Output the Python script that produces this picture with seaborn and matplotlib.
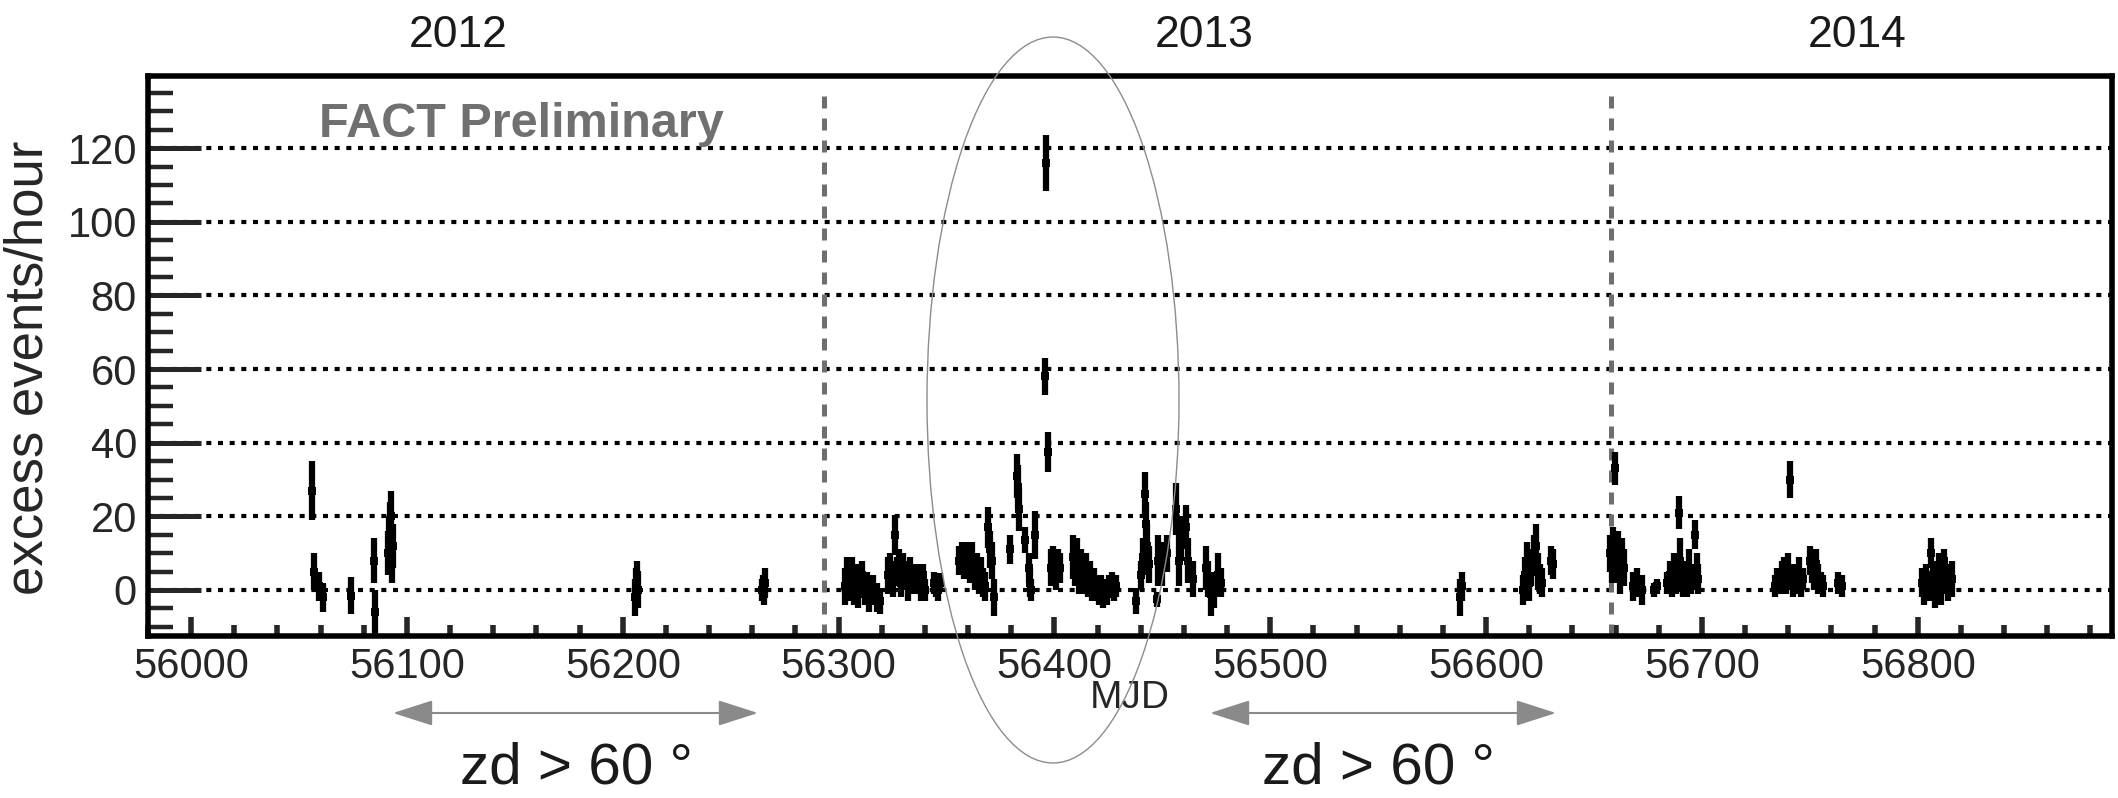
import numpy as np
import pandas as pd
import seaborn as sns
import matplotlib.pyplot as plt
from matplotlib.patches import Ellipse, FancyArrowPatch
from matplotlib.ticker import MultipleLocator, FormatStrFormatter

# nightly excess rates (MJD, excess events/hour, error)
mjd_2012 = [56056, 56057, 56059, 56061, 56074, 56084.5, 56085, 56091, 56091.5, 56092,
            56092.5, 56093, 56093.5, 56205.5, 56206, 56206.5, 56207, 56264.5, 56265,
            56265.5, 56266]
rate_2012 = [27, 5, 1, -2, -1.5, 8, -6, 10, 14, 17, 20, 8, 12, -2, 1, 4, 0, 0, 1, -1, 2]
err_2012 = [8, 5, 4, 4, 5, 6, 6, 6, 6, 7, 7, 6, 6, 5, 5, 4, 5, 3, 3, 3, 4]

mjd_2013 = [56303, 56304, 56305, 56306, 56307, 56308, 56309, 56310, 56311, 56312, 56313,
            56314, 56316, 56318, 56319,
            56323, 56324, 56325, 56326, 56327, 56328, 56329, 56330, 56331, 56332, 56333, 56334,
            56337, 56338, 56339, 56340, 56344, 56345, 56346, 56347,
            56356, 56357, 56358, 56359, 56360, 56361, 56362, 56363, 56364, 56365, 56366,
            56367, 56368, 56369, 56370, 56371, 56372,
            56379.5, 56382.5, 56383, 56383.5,
            56386.5, 56388, 56388.5, 56389, 56391,
            56395.5, 56396, 56397,
            56398.5, 56399.5, 56400.5, 56401.5, 56402.5,
            56408.5, 56409.5, 56410.5, 56411.5, 56412.5, 56413.5, 56414.5, 56415.5, 56416.5,
            56417.5, 56418.5, 56419.5, 56420.5, 56421.5, 56422.5, 56423.5, 56424.5, 56425.5,
            56426.5, 56427.5, 56428.5,
            56438, 56440, 56441, 56442, 56442.5, 56443, 56444, 56447.5, 56448, 56450, 56452,
            56456.5, 56457.5, 56458.5, 56461, 56462, 56464,
            56470, 56471, 56472.5, 56474, 56476, 56477,
            56588, 56589,
            56617, 56618, 56619, 56620, 56621, 56622, 56623, 56624, 56625, 56626, 56630, 56631]
rate_2013 = [1, 4, 2, 5, 0, 3, -1, 2, 4, 0, 1,
             -2, 0, -2, -3,
             4, 6, 3, 15, 5, 7, 2, 6, 4, 1, 5, 3,
             3, 1, 4, 0, 2, 1, 0, 2,
             8, 9, 7, 10, 8, 6, 9, 4, 6, 3, 5,
             2, 1, 17, 11, 8, -2,
             11, 31, 28, 22,
             13.5, 6, 2, 0, 15,
             58, 116, 37.5,
             6, 8, 5, 7, 6,
             9, 6, 10, 4, 7, 3, 6, 2, 5,
             1, 3, 0, -1, 1, -2, 0, -1, 1,
             2, 0, 1,
             -3, 4, 9, 26, 18, 12, 7, -2.5, 8, 7, 10,
             22, 8, 14, 17, 8, 3,
             6, 3, -1, 0, 4, 2,
             -2, 1,
             0, 4, 8, 2, 6, 10, 12, 5, 3, 2, 8, 7]
err_2013 = [5, 5, 5, 4, 4, 4, 4, 4, 4, 4, 4,
            4, 4, 4, 3.5,
            5, 4, 5, 5.5, 4, 4, 4, 4, 4, 4, 4, 4,
            4, 4, 3, 3, 3, 3, 3, 2.5,
            4, 4, 4, 3, 4, 4, 4, 4, 4, 4, 4,
            4, 4, 5.5, 5, 5, 5,
            4, 6, 6, 6,
            3.5, 4, 4, 3, 6.5,
            5, 7.5, 5.5,
            5, 4, 5, 4, 4,
            6, 5, 4, 5, 4, 4, 4, 4, 3,
            4, 3, 3, 3, 3, 3, 3, 3, 3,
            3, 3, 3,
            3.5, 4, 5, 6, 6, 6, 5, 2, 7, 6, 5,
            7, 7, 6, 6, 6, 5,
            6, 5, 6, 5, 6, 4,
            5, 4,
            4, 5, 5, 5, 5, 5, 6, 5, 4, 4, 4, 4]

mjd_2014 = [56657.5, 56658.5, 56659, 56659.5, 56660.5, 56661, 56662, 56663, 56664,
            56668, 56670, 56672, 56678, 56679,
            56684, 56685, 56686, 56687, 56688, 56689, 56689.5, 56690, 56691, 56692, 56693,
            56694, 56695, 56697, 56697.5, 56698,
            56734, 56735, 56736, 56737, 56738, 56739, 56740, 56741, 56741.5, 56742, 56743,
            56744, 56745, 56746, 56747,
            56750, 56751, 56752, 56753, 56754, 56755, 56756, 56763, 56765,
            56802, 56803, 56804, 56805, 56806, 56807, 56808, 56809, 56810, 56811, 56812,
            56813, 56814, 56816]
rate_2014 = [10, 7, 12, 33, 8, 11, 3, 9, 6,
             1, 2, 0, 0, 1,
             2, 4, 1, 6, 3, 5, 21, 8, 2, 4, 1,
             6, 3, 15, 5, 3,
             1, 3, 2, 4, 5, 2, 6, 30, 3, 1, 4,
             2, 5, 1, 3,
             8, 6, 4, 7, 3, 2, 1, 2, 1,
             2, 0, 3, 1, 10, 4, -1, 2, 5, 0, 8,
             3, 1, 3]
err_2014 = [5, 5, 5, 4.5, 6, 5, 4, 5, 5,
            4, 4, 4, 2, 2,
            3, 4, 3, 4, 4, 5, 4.5, 6, 4, 4, 3,
            5, 4, 4, 5, 4,
            3, 3, 3, 4, 4, 3, 4, 5, 3, 3, 3,
            3, 4, 3, 3,
            4, 4, 4, 4, 4, 3, 3, 3, 3,
            4, 4, 4, 4, 4, 4, 4, 4, 5, 4, 3,
            4, 4, 5]

year_labels = ["2012", "2013", "2014"]
new_year_mjd = [56293, 56658]

df = pd.DataFrame({
    "mjd": mjd_2012 + mjd_2013 + mjd_2014,
    "rate": rate_2012 + rate_2013 + rate_2014,
    "err": err_2012 + err_2013 + err_2014,
})

sns.set_style("ticks")
plt.rcParams["font.family"] = ["Liberation Sans", "DejaVu Sans"]

W, H = 2118, 798
fig = plt.figure(figsize=(W / 100, H / 100), dpi=100)
ax = fig.add_axes([148 / W, 1 - 636 / H, (2112 - 148) / W, (636 - 76) / H])

# horizontal dotted grid (ROOT style)
ax.yaxis.grid(True, which="major", color="black", linestyle=(0, (1.2, 1.6)), linewidth=3)
ax.xaxis.grid(False)

# new-year markers
ax.vlines(new_year_mjd, -12.5, 137, colors="#6e6e6e", linestyles=(0, (2.4, 2)), linewidth=3.6, zorder=2)

# data
ax.errorbar(df["mjd"], df["rate"], yerr=df["err"], fmt="none", ecolor="black",
            elinewidth=4.5, capsize=0, zorder=3)
sns.scatterplot(data=df, x="mjd", y="rate", marker="s", s=30, color="black",
                linewidth=0, ax=ax, zorder=4, legend=False)

ax.set_xlim(55980, 56890)
ax.set_ylim(-12.5, 139.6)
ax.xaxis.set_major_locator(MultipleLocator(100))
ax.xaxis.set_minor_locator(MultipleLocator(20))
ax.yaxis.set_major_locator(MultipleLocator(20))
ax.yaxis.set_minor_locator(MultipleLocator(5))
ax.xaxis.set_major_formatter(FormatStrFormatter("%d"))

ax.tick_params(axis="y", which="major", direction="in", length=38, width=3.6,
               labelsize=30, pad=8, right=False)
ax.tick_params(axis="y", which="minor", direction="in", length=18, width=3.2, right=False)
ax.tick_params(axis="x", which="major", direction="in", length=13.5, width=4,
               labelsize=30, pad=8, top=False)
ax.tick_params(axis="x", which="minor", direction="in", length=8, width=4, top=False)
for sp in ax.spines.values():
    sp.set_linewidth(4)
    sp.set_color("black")

ax.set_xlabel("MJD", fontsize=28)
ax.xaxis.set_label_coords(0.5, -0.079)
ax.set_ylabel("excess events/hour", fontsize=38)
ax.yaxis.set_label_coords(-0.048, 0.479)

ax.text(0.19, 0.891, "FACT Preliminary", transform=ax.transAxes, ha="center",
        va="baseline", fontsize=35, fontweight="bold", color="#707070")

# year labels above the frame
for lab, xc in zip(year_labels, [458, 1204, 1857]):
    fig.text(xc / W, 1 - 47 / H, lab, ha="center", va="baseline", fontsize=32, color="#1a1a1a")

# ellipse around the flare
fig.add_artist(Ellipse((1053 / W, 1 - 400 / H), 252 / W, 726 / H, transform=fig.transFigure,
                       fill=False, edgecolor="#8c8c8c", linewidth=1.0))

# high-zenith periods
for x0, x1, xt in [(393, 758, 576), (1210, 1556, 1378)]:
    fig.add_artist(FancyArrowPatch((x0 / W, 1 - 713 / H), (x1 / W, 1 - 713 / H),
                                   transform=fig.transFigure,
                                   arrowstyle="<|-|>,head_length=25,head_width=8",
                                   mutation_scale=1, shrinkA=0, shrinkB=0,
                                   color="#8a8a8a", linewidth=1.5))
    fig.text(xt / W, 1 - 783 / H, "zd > 60 °", ha="center", va="baseline",
             fontsize=42, color="#1a1a1a")

fig.savefig("out.png", dpi=100)
